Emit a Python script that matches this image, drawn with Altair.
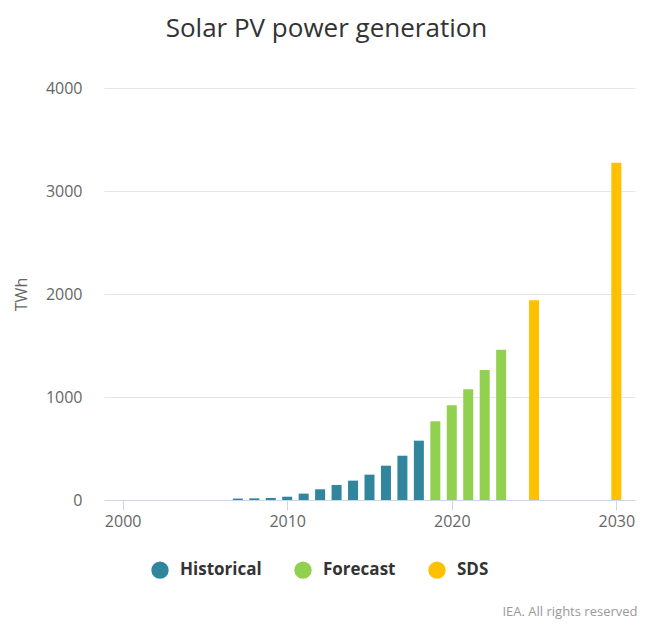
import altair as alt
import pandas as pd

# ---- data ----
hist_years = [2007, 2008, 2009, 2010, 2011, 2012, 2013, 2014, 2015, 2016, 2017, 2018]
hist_values = [14, 16, 20, 32, 62, 104, 146, 188, 246, 333, 430, 576]
fc_years = [2019, 2020, 2021, 2022, 2023]
fc_values = [764, 919, 1075, 1262, 1459]
sds_years = [2025, 2030]
sds_values = [1940, 3275]

categories = ["Historical", "Forecast", "SDS"]
colors = ["#31859c", "#92d050", "#ffc000"]
x_ticks = [2000, 2010, 2020, 2030]
y_ticks = [0, 1000, 2000, 3000, 4000]

rows = []
for y, v in zip(hist_years, hist_values):
    rows.append({"year": y, "value": v, "series": "Historical"})
for y, v in zip(fc_years, fc_values):
    rows.append({"year": y, "value": v, "series": "Forecast"})
for y, v in zip(sds_years, sds_values):
    rows.append({"year": y, "value": v, "series": "SDS"})
df = pd.DataFrame(rows)

FONT = "Open Sans"

chart = alt.Chart(df).mark_bar(size=10).encode(
    x=alt.X(
        "year:Q",
        scale=alt.Scale(domain=[1999.17, 2030.83], nice=False, zero=False),
        axis=alt.Axis(
            values=x_ticks,
            format="d",
            grid=False,
            domainColor="#ccd6eb",
            tickColor="#ccd6eb",
            tickSize=10,
            labelPadding=3,
            labelFont=FONT,
            labelFontSize=16,
            labelColor="#666666",
            title="IEA. All rights reserved",
            titleFont=FONT,
            titleFontSize=13,
            titleFontWeight="normal",
            titleColor="#999999",
            titleX=533,
            titleY=115,
            titleAlign="right",
            titleBaseline="alphabetic",
        ),
    ),
    y=alt.Y(
        "value:Q",
        scale=alt.Scale(domain=[0, 4000], nice=False),
        axis=alt.Axis(
            values=y_ticks,
            format="d",
            domain=False,
            ticks=False,
            gridColor="#e6e6e6",
            labelPadding=22,
            labelFont=FONT,
            labelFontSize=16,
            labelColor="#666666",
            title="TWh",
            titleFont=FONT,
            titleFontSize=16,
            titleFontWeight="normal",
            titleColor="#666666",
            titleAngle=270,
            titleX=-83,
            titleY=206,
            titleAlign="center",
            titleBaseline="middle",
        ),
    ),
    color=alt.Color(
        "series:N",
        scale=alt.Scale(domain=categories, range=colors),
        legend=alt.Legend(
            title=None,
            orient="none",
            direction="horizontal",
            legendX=47,
            legendY=473,
            symbolType="circle",
            symbolSize=300,
            symbolStrokeWidth=0,
            symbolOpacity=1,
            labelFont=FONT,
            labelFontSize=17,
            labelFontWeight="bold",
            labelColor="#333333",
            labelOffset=11,
            columnPadding=32,
        ),
    ),
).properties(
    width=531,
    height=412,
    autosize=alt.AutoSizeParams(type="none"),
    padding={"left": 96, "top": 80, "right": 4, "bottom": 119},
    title=alt.Title(
        "Solar PV power generation",
        font=FONT,
        fontSize=26,
        fontWeight="normal",
        color="#333333",
        anchor="middle",
        frame="group",
        dx=-43,
        offset=17,
        baseline="alphabetic",
    ),
).configure(background="white").configure_view(strokeWidth=0, stroke="transparent")

chart.save("out.html", embed_options={"renderer": "svg", "actions": False})
